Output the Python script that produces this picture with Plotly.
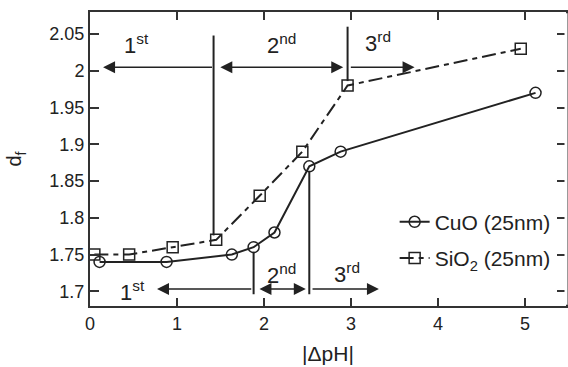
import plotly.graph_objects as go

# Data
cuo_x = [0.11, 0.88, 1.63, 1.88, 2.12, 2.52, 2.88, 5.12]
cuo_y = [1.74, 1.74, 1.75, 1.76, 1.78, 1.87, 1.89, 1.97]
sio2_x = [0.05, 0.45, 0.95, 1.45, 1.95, 2.44, 2.96, 4.95]
sio2_y = [1.75, 1.75, 1.76, 1.77, 1.83, 1.89, 1.98, 2.03]

x_ticks = [0, 1, 2, 3, 4, 5]
y_ticks = [1.7, 1.75, 1.8, 1.85, 1.9, 1.95, 2.0, 2.05]
y_ticktext = ["1.7", "1.75", "1.8", "1.85", "1.9", "1.95", "2", "2.05"]

# Stage divider lines (x, y_start, y_end)
top_dividers = [(1.42, 2.048, 1.776), (2.96, 2.060, 1.986)]
bot_dividers = [(1.88, 1.754, 1.696), (2.52, 1.864, 1.696)]

# Stage arrows: (tail_x, tail_y, head_x, head_y, double)
top_arrows = [(1.42, 2.005, 0.15, 2.005, False),
              (1.48, 2.005, 2.91, 2.005, True),
              (2.98, 2.005, 3.73, 2.005, False)]
bot_arrows = [(1.87, 1.703, 0.77, 1.703, False),
              (1.93, 1.703, 2.48, 1.703, True),
              (2.54, 1.703, 3.32, 1.703, False)]

# Stage labels: (x, y, text)
stage_labels = [(0.54, 2.037, "1<sup>st</sup>"),
                (2.20, 2.037, "2<sup>nd</sup>"),
                (3.31, 2.039, "3<sup>rd</sup>"),
                (0.49, 1.701, "1<sup>st</sup>"),
                (2.20, 1.724, "2<sup>nd</sup>"),
                (2.95, 1.725, "3<sup>rd</sup>")]

INK = "#222222"
AXC = "#333333"
FONT = "Liberation Sans, Arial, sans-serif"

fig = go.Figure()

fig.add_trace(go.Scatter(
    x=cuo_x, y=cuo_y, mode="lines+markers", name="CuO (25nm)", legendgroup="a",
    line=dict(color=INK, width=2),
    marker=dict(symbol="circle-open", size=11, color=INK, line=dict(width=1.5)),
))
fig.add_trace(go.Scatter(
    x=sio2_x, y=sio2_y, mode="lines+markers", name="SiO<sub>2</sub> (25nm)", legendgroup="b",
    line=dict(color=INK, width=2, dash="14px,5px,5px,5px"),
    marker=dict(symbol="square-open", size=11, color=INK, line=dict(width=1.5)),
))

for (x, y0, y1) in top_dividers + bot_dividers:
    fig.add_trace(go.Scatter(x=[x, x], y=[y0, y1], mode="lines",
                             line=dict(color=INK, width=2),
                             showlegend=False, hoverinfo="skip"))

annotations = []
for (tx, ty, hx, hy, dbl) in top_arrows + bot_arrows:
    annotations.append(dict(
        x=hx, y=hy, ax=tx, ay=ty, xref="x", yref="y", axref="x", ayref="y",
        text="", showarrow=True, arrowhead=2, arrowsize=1.6, arrowwidth=1.5,
        arrowcolor=INK, arrowside="end+start" if dbl else "end",
        startarrowhead=2, startarrowsize=1.6, standoff=0, startstandoff=0,
    ))
for (x, y, t) in stage_labels:
    annotations.append(dict(x=x, y=y, xref="x", yref="y", text=t,
                            showarrow=False, font=dict(size=22, color=INK, family=FONT)))

# The right frame edge falls just off the picture: mask the mirrored line there
mask = [dict(type="line", xref="paper", yref="paper", x0=1, x1=1, y0=0.004, y1=0.996,
             line=dict(color="white", width=3), layer="above")]

fig.update_layout(
    width=568, height=367,
    margin=dict(l=90, r=0, t=12, b=61),
    paper_bgcolor="white", plot_bgcolor="white",
    font=dict(family=FONT, color=INK),
    annotations=annotations,
    shapes=mask,
    legend=dict(x=0.64, y=0.355, xanchor="left", yanchor="top",
                traceorder="grouped", tracegroupgap=6,
                bgcolor="rgba(0,0,0,0)", font=dict(size=21, color=INK, family=FONT)),
    xaxis=dict(
        range=[0, 5.47], tickvals=x_ticks, ticks="inside", ticklen=8, tickwidth=1.5,
        tickcolor=AXC, showline=True, linecolor=AXC, linewidth=2, mirror="ticks",
        showgrid=False, zeroline=False, tickfont=dict(size=18),
        title=dict(text="|ΔpH|", font=dict(size=21), standoff=14),
    ),
    yaxis=dict(
        range=[1.68, 2.08], tickvals=y_ticks, ticktext=y_ticktext, ticks="inside",
        ticklen=9, tickwidth=1.5, tickcolor=AXC, showline=True, linecolor=AXC,
        linewidth=2, mirror="ticks", showgrid=False, zeroline=False,
        tickfont=dict(size=18),
        title=dict(text="d<sub>f</sub>", font=dict(size=20), standoff=22),
    ),
)

fig.write_html("out.html", config={"displayModeBar": False},
               post_script="document.body.style.margin='0';document.body.style.overflow='hidden';")
